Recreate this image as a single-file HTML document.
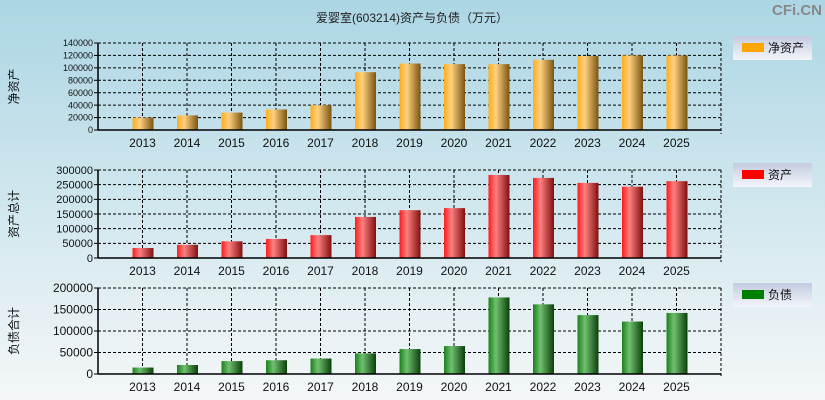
<!DOCTYPE html>
<html><head><meta charset="utf-8"><style>
body{margin:0;width:825px;height:400px;overflow:hidden;font-family:"Liberation Sans","Noto Sans CJK SC",sans-serif;}
svg{display:block}
</style></head><body>
<svg id="c" width="825" height="400">
<defs>
<linearGradient id="bg" x1="0" y1="0" x2="0" y2="1"><stop offset="0" stop-color="#acd6e4"/><stop offset="1" stop-color="#f4f7f8"/></linearGradient>
<linearGradient id="lg" x1="0" y1="0" x2="0" y2="1"><stop offset="0" stop-color="#c3cbe0"/><stop offset="1" stop-color="#f4f5fa"/></linearGradient>
<linearGradient id="go" x1="0" x2="1"><stop offset="0" stop-color="#ffad1a"/><stop offset="0.35" stop-color="#ffd080"/><stop offset="1" stop-color="#7a5510"/></linearGradient>
<linearGradient id="gr" x1="0" x2="1"><stop offset="0" stop-color="#ff1a1a"/><stop offset="0.35" stop-color="#ff8080"/><stop offset="1" stop-color="#801010"/></linearGradient>
<linearGradient id="gg" x1="0" x2="1"><stop offset="0" stop-color="#1a801a"/><stop offset="0.35" stop-color="#70c070"/><stop offset="1" stop-color="#0a400a"/></linearGradient>
</defs>
<rect width="825" height="400" fill="url(#bg)"/>
<text x="412" y="22" font-size="12" text-anchor="middle" fill="#222">爱婴室(603214)资产与负债（万元）</text>
<text x="822" y="15" font-size="15" font-weight="bold" text-anchor="end" fill="#888">CFi.CN</text>
<g id="g"></g>
</svg>
<script>
const years=["2013","2014","2015","2016","2017","2018","2019","2020","2021","2022","2023","2024","2025"];
const netAssets=[20000,23500,28000,33000,40000,93000,107000,106000,106000,113000,119000,120000,120000];
const totalAssets=[34000,45000,57000,65000,78000,140000,163000,170000,283000,273000,256000,243000,262000];
const liabilities=[15000,21000,30000,32000,36000,48000,58000,65000,178000,162000,137000,122000,142000];
const ticks1=[0,20000,40000,60000,80000,100000,120000,140000];
const ticks2=[0,50000,100000,150000,200000,250000,300000];
const ticks3=[0,50000,100000,150000,200000];
const NS="http://www.w3.org/2000/svg";
const g=document.getElementById('g');
function mk(t,a,p){const e=document.createElementNS(NS,t);for(const k in a)e.setAttribute(k,a[k]);(p||g).appendChild(e);return e;}
const L=98,R=721;
function x(i){return L+(i+1)*(R-L)/14;}
function panel(top,bot,max,ticks,vals,fill,fs,ytitle,leg,legColor,ly,name){
  const y=v=>bot-(v/max)*(bot-top);
  const grp=mk('g',{});
  
  
  ticks.forEach(t=>{
    if(t>0){const l=mk('line',{x1:L,x2:R,y1:y(t),y2:y(t),stroke:'#000','stroke-dasharray':'3,2','stroke-width':1},grp);
      }
    mk('line',{x1:L-4,x2:L,y1:y(t),y2:y(t),stroke:'#000'},grp);
    const tx=mk('text',{x:L-5,y:y(t)+fs*0.35,'font-size':fs,'text-anchor':'end',fill:'#111'},grp);
    tx.textContent=t;
    
    
  });
  years.forEach((yr,i)=>{
    const l=mk('line',{x1:x(i),x2:x(i),y1:top,y2:bot,stroke:'#000','stroke-dasharray':'3,2'},grp);
    
    const tx=mk('text',{x:x(i),y:bot+17,'font-size':12,'text-anchor':'middle',fill:'#111'},grp);
    tx.textContent=yr;
    
    
  });
  mk('line',{x1:R,x2:R,y1:top,y2:bot+4,stroke:'#000','stroke-dasharray':'3,2'},grp);
  mk('line',{x1:L,x2:R,y1:top,y2:top,stroke:'#000','stroke-dasharray':'3,2'},grp);
  vals.forEach((v,i)=>{
    const b=mk('rect',{x:x(i)-10,y:y(v),width:21,height:bot-y(v),fill:fill},grp);
    
    
  });
  mk('line',{x1:L,x2:L,y1:top,y2:bot,stroke:'#000','stroke-width':1.5},grp);
  mk('line',{x1:L,x2:R,y1:bot,y2:bot,stroke:'#000','stroke-width':1.5},grp);
  const cy=(top+bot)/2;
  const yt=mk('text',{x:0,y:0,'font-size':12,'text-anchor':'middle',fill:'#111',transform:`translate(18,${cy}) rotate(-90)`},grp);
  yt.textContent=ytitle;
  
  
  const lg=mk('g',{},grp);
  
  
  mk('rect',{x:733,y:ly,width:79,height:24,fill:'url(#lg)'},lg);
  mk('rect',{x:742,y:ly+7,width:22,height:9,fill:legColor},lg);
  const lt=mk('text',{x:768,y:ly+16,'font-size':12,fill:'#111'},lg);
  lt.textContent=leg;
}
panel(43,130,140000,ticks1,netAssets,'url(#go)',9,'净资产','净资产','#ffa500',36,'net-assets');
panel(170,258,300000,ticks2,totalAssets,'url(#gr)',11,'资产总计','资产','#ff0000',163,'total-assets');
panel(288,374,200000,ticks3,liabilities,'url(#gg)',12,'负债合计','负债','#008000',283,'liabilities');
</script>
</body></html>
